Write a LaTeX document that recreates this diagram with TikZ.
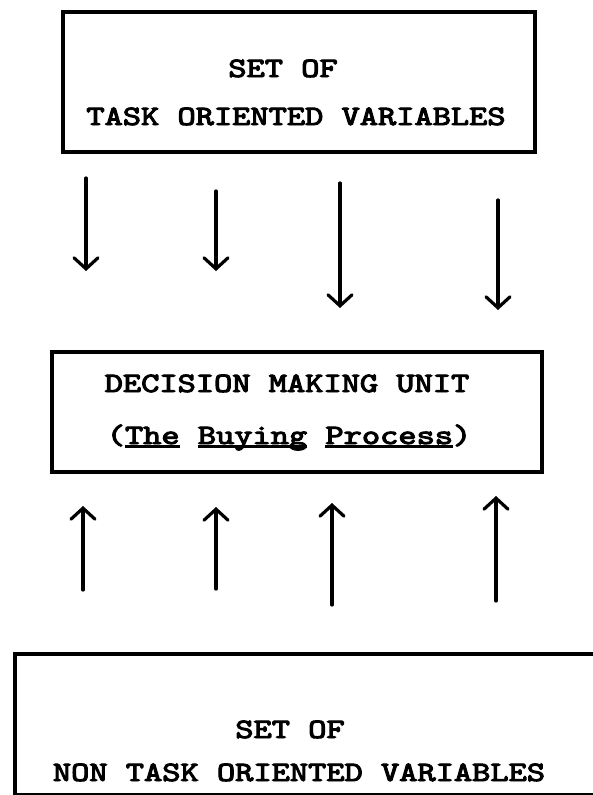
\documentclass[tikz,border=0pt]{standalone}
\usepackage{fontspec}
\newfontfamily\twfont{lmmono10-regular.otf}[FakeBold=3.4]
\usetikzlibrary{arrows.meta}
\newcommand\typul[1]{\setbox0=\hbox{#1}\rlap{\rule[-3.5pt]{\wd0}{2.4pt}}\box0\relax}
\newcommand\hwide[1]{\scalebox{1.24}[1]{#1}}
\begin{document}
\begin{tikzpicture}[x=1pt,y=-1pt,
  boxline/.style={draw,line width=3.8pt,inner sep=0pt},
  typed/.style={font=\twfont\fontsize{28}{30}\selectfont,inner sep=0pt,anchor=base},
  flow/.style={line width=3.2pt,line cap=round,-{Straight Barb[length=11pt,width=24pt,line cap=round]}}]
\useasboundingbox (0,0) rectangle (593,795);
\clip (0,0) rectangle (593,795);
\fill[white] (0,0) rectangle (593,795);
% boxes
\node[boxline,minimum width=472pt,minimum height=140pt,anchor=north west] (topbox) at (61,10) {};
\node[boxline,minimum width=490pt,minimum height=120pt,anchor=north west] (midbox) at (50,350) {};
\node[boxline,minimum width=620pt,minimum height=141pt,anchor=north west] (botbox) at (13,652) {};
% texts
\node[typed] (topa) at (283,77) {\hwide{SET OF}};
\node[typed] (topb) at (296,125) {\hwide{TASK ORIENTED VARIABLES}};
\node[typed] (mida) at (287,392) {\hwide{DECISION MAKING UNIT}};
\node[typed] (midb) at (289,444) {\hwide{(\typul{The} \typul{Buying} \typul{Process})}};
\node[typed] (bota) at (290,738) {\hwide{SET OF}};
\node[typed] (botb) at (299,781) {\hwide{NON TASK ORIENTED VARIABLES}};
% down arrows
\coordinate (d1a) at (86,178);  \coordinate (d1b) at (86,271);
\coordinate (d2a) at (216,191); \coordinate (d2b) at (216,271);
\coordinate (d3a) at (340,183); \coordinate (d3b) at (340,308);
\coordinate (d4a) at (498,200); \coordinate (d4b) at (498,310);
\foreach \i in {1,...,4} \draw[flow] (d\i a) -- (d\i b);
% up arrows
\coordinate (u1a) at (83,590);  \coordinate (u1b) at (83,506);
\coordinate (u2a) at (216,589); \coordinate (u2b) at (216,507);
\coordinate (u3a) at (332,605); \coordinate (u3b) at (332,503);
\coordinate (u4a) at (496,601); \coordinate (u4b) at (496,496);
\foreach \i in {1,...,4} \draw[flow] (u\i a) -- (u\i b);
\end{tikzpicture}
\end{document}
